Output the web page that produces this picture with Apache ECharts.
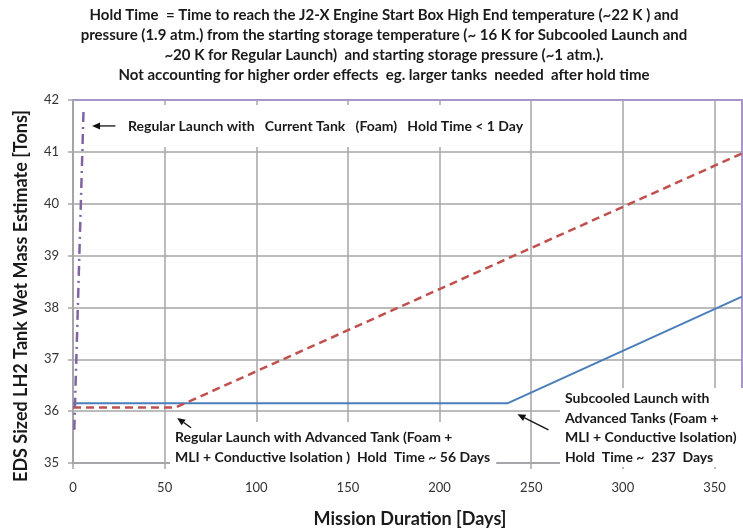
<!DOCTYPE html>
<html><head><meta charset="utf-8">
<script src="https://cdn.jsdelivr.net/npm/echarts@6/dist/echarts.min.js"></script>
<style>html,body{margin:0;padding:0;background:#fff}#c{width:743px;height:531px}</style>
</head><body><div id="c"></div>
<script>
// ---- data ----
const regularCurrentDays = [0.7, 5.8];
const regularCurrentMass = [35.64, 41.86];
const regularAdvancedDays = [0, 56, 365];
const regularAdvancedMass = [36.07, 36.07, 40.97];
const subcooledDays = [0, 237, 365];
const subcooledMass = [36.15, 36.15, 38.21];

const titleLines = [
  'Hold Time  = Time to reach the J2-X Engine Start Box High End temperature (~22 K ) and',
  'pressure (1.9 atm.) from the starting storage temperature (~ 16 K for Subcooled Launch and',
  '~20 K for Regular Launch)  and starting storage pressure (~1 atm.).',
  'Not accounting for higher order effects  eg. larger tanks  needed  after hold time'
];
const yTitle = 'EDS Sized LH2 Tank Wet Mass Estimate [Tons]';
const xTitle = 'Mission Duration [Days]';
const noteCurrent = 'Regular Launch with   Current Tank   (Foam)   Hold Time < 1 Day';
const noteAdvanced = ['Regular Launch with Advanced Tank (Foam +', 'MLI + Conductive Isolation )  Hold  Time ~ 56 Days'];
const noteSubcooled = ['Subcooled Launch with', 'Advanced Tanks (Foam +', 'MLI + Conductive Isolation)', 'Hold  Time ~  237  Days'];
// arrows: [tailDay, tailMass, headDay, headMass]
const arrowCurrent = [23.1, 41.5, 10.4, 41.5];
const arrowAdvanced = [64.4, 35.68, 56.8, 35.87];
const arrowSubcooled = [259.4, 35.64, 242.5, 35.94];

const zip = (a, b) => a.map((v, i) => [v, b[i]]);
const FONT = 'Lato, "Open Sans", sans-serif';
const GRID = '#a6a6a6';

const chart = echarts.init(document.getElementById('c'), null, {renderer: 'canvas'});
chart.setOption({
  animation: false,
  backgroundColor: '#fff',
  grid: {left: 73, right: 1, top: 100, bottom: 68, show: true, borderColor: '#a895cc', borderWidth: 2, backgroundColor: 'transparent'},
  xAxis: {
    type: 'value', min: 0, max: 365, interval: 50,
    axisLine: {show: true, lineStyle: {color: GRID, width: 1.5}},
    axisTick: {show: true, length: 6, lineStyle: {color: GRID, width: 1.5}},
    axisLabel: {margin: 18, fontFamily: FONT, fontSize: 13, color: '#333', showMaxLabel: false},
    splitLine: {show: true, showMaxLine: false, lineStyle: {color: GRID, width: 1.5}}
  },
  yAxis: {
    type: 'value', min: 35, max: 42, interval: 1,
    axisLine: {show: true, lineStyle: {color: GRID, width: 1.5}},
    axisTick: {show: true, length: 5, lineStyle: {color: GRID, width: 1.5}},
    axisLabel: {margin: 14, fontFamily: FONT, fontSize: 13, color: '#333'},
    splitLine: {show: true, showMaxLine: false, lineStyle: {color: GRID, width: 1.5}}
  },
  series: [
    {type: 'line', name: 'Subcooled', data: zip(subcooledDays, subcooledMass), symbol: 'none', z: 3,
     lineStyle: {color: '#4a7ebb', width: 2}},
    {type: 'line', name: 'Regular Advanced', data: zip(regularAdvancedDays, regularAdvancedMass), symbol: 'none', z: 4,
     lineStyle: {color: '#c0504d', width: 2.5, type: [8, 5]}},
    {type: 'line', name: 'Regular Current', data: zip(regularCurrentDays, regularCurrentMass), symbol: 'none', z: 4,
     lineStyle: {color: '#8064a2', width: 2.5, type: [10, 5, 2, 5]}}
  ]
});

function arrow(a) {
  const t = chart.convertToPixel({gridIndex: 0}, [a[0], a[1]]);
  const h = chart.convertToPixel({gridIndex: 0}, [a[2], a[3]]);
  const dx = h[0] - t[0], dy = h[1] - t[1];
  const L = Math.hypot(dx, dy), ux = dx / L, uy = dy / L;
  const hl = 8, hw = 3.5;
  const bx = h[0] - ux * hl, by = h[1] - uy * hl;
  return [
    {type: 'line', z: 20, shape: {x1: t[0], y1: t[1], x2: bx, y2: by}, style: {stroke: '#111', lineWidth: 1.3}},
    {type: 'polygon', z: 20, shape: {points: [[h[0], h[1]], [bx - uy * hw, by + ux * hw], [bx + uy * hw, by - ux * hw]]}, style: {fill: '#111'}}
  ];
}

const txt = (text, x, y, extra) => ({
  type: 'text', z: 15, x: x, y: y,
  style: Object.assign({text: text, font: 'bold 14px ' + FONT, fill: '#1a1a1a', lineHeight: 20}, extra || {})
});

chart.setOption({
  graphic: [
    txt(titleLines.join('\n'), 384, 5, {align: 'center', lineHeight: 20, font: 'bold 15px ' + FONT}),
    txt(noteCurrent, 122, 105, {backgroundColor: '#fff', padding: [11, 6, 11, 6]}),
    txt(noteAdvanced.join('\n'), 170, 422, {backgroundColor: '#fff', padding: [5, 6, 6, 5]}),
    txt(noteSubcooled.join('\n'), 560, 388, {backgroundColor: '#fff', padding: [1, 10, 0, 5], lineHeight: 19.5}),
    {type: 'text', z: 15, x: 21, y: 296, rotation: Math.PI / 2,
     style: {text: yTitle, font: 'bold 18px ' + FONT, fill: '#1a1a1a', align: 'center', verticalAlign: 'middle'}},
    {type: 'text', z: 15, x: 410, y: 519,
     style: {text: xTitle, font: 'bold 18px ' + FONT, fill: '#1a1a1a', align: 'center', verticalAlign: 'middle'}},
    ...arrow(arrowCurrent),
    ...arrow(arrowAdvanced),
    ...arrow(arrowSubcooled)
  ]
});
</script></body></html>
